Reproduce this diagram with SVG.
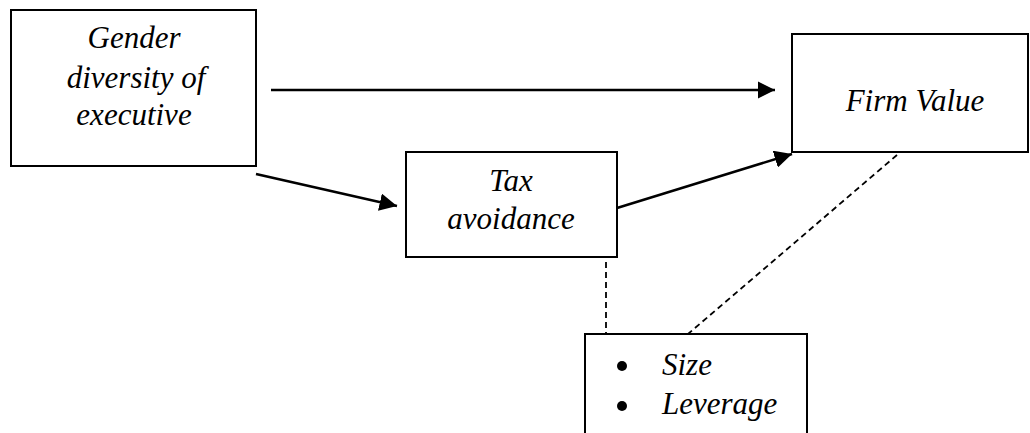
<svg xmlns="http://www.w3.org/2000/svg" width="1030" height="433" viewBox="0 0 1030 433">
<style>
.box{fill:#fff;stroke:#000;stroke-width:2}
.t{font-family:"Liberation Serif","Times New Roman",serif;font-style:italic;font-size:31px;fill:#000}
.c{text-anchor:middle}
.arr{stroke:#000;stroke-width:2.5;fill:none;marker-end:url(#ah)}
.dash{stroke:#000;stroke-width:1.8;fill:none;stroke-dasharray:6,4}
</style>
<defs>
<marker id="ah" viewBox="0 0 10 10" refX="10" refY="5" markerWidth="7" markerHeight="7" markerUnits="strokeWidth" orient="auto">
<path d="M0,0 L10,5 L0,10 z" fill="#000"/>
</marker>
</defs>
<g id="connectors">
<line class="arr" x1="271" y1="90" x2="775" y2="90"/>
<line class="arr" x1="256" y1="174" x2="397" y2="206"/>
<line class="arr" x1="617" y1="208" x2="792" y2="154"/>
<line class="dash" x1="606" y1="262" x2="606" y2="334"/>
<line class="dash" x1="897" y1="155" x2="688" y2="334"/>
</g>
<g id="gender">
<rect class="box" x="11" y="10" width="245" height="156"/>
<text class="t c" x="134" y="48">Gender</text>
<text class="t c" x="136" y="88">diversity of</text>
<text class="t c" x="134" y="125">executive</text>
</g>
<g id="firmvalue">
<rect class="box" x="792" y="34" width="236" height="118"/>
<text class="t c" x="915" y="111">Firm Value</text>
</g>
<g id="tax">
<rect class="box" x="406" y="152" width="211" height="105"/>
<text class="t c" x="511" y="191">Tax</text>
<text class="t c" x="511" y="229">avoidance</text>
</g>
<g id="controls">
<rect class="box" x="585" y="334" width="222" height="120"/>
<circle cx="622" cy="366" r="5" fill="#000"/>
<circle cx="622" cy="406" r="5" fill="#000"/>
<text class="t" x="662" y="375">Size</text>
<text class="t" x="662" y="414">Leverage</text>
</g>
</svg>
